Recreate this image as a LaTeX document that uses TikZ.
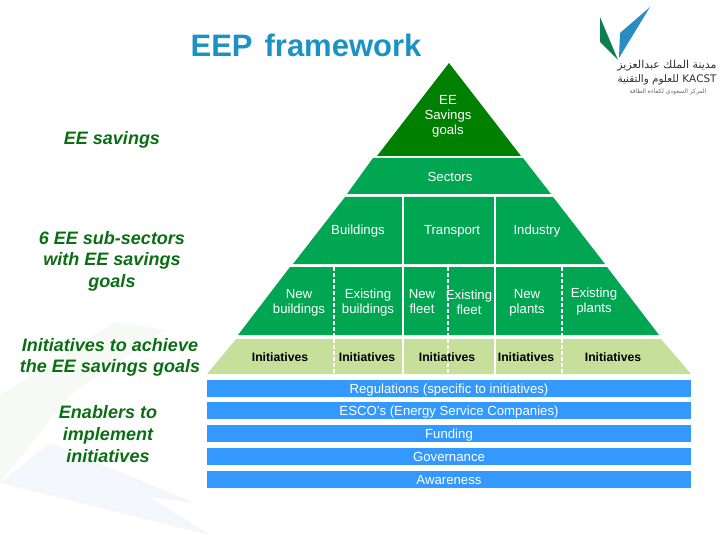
\documentclass[tikz,border=0pt]{standalone}
\usepackage{fontspec}
\usepackage{xcolor}
\setmainfont{Liberation Sans}
\newfontfamily\arabicfont[Script=Arabic]{DejaVu Sans}
\TeXXeTstate=1
\definecolor{eepdark}{HTML}{008000}
\definecolor{eepgreen}{HTML}{00A651}
\definecolor{eeplight}{HTML}{C6E09C}
\definecolor{eepblue}{HTML}{3399FF}
\definecolor{eeptitle}{HTML}{1A92C4}
\definecolor{eeplabel}{HTML}{0B6E14}
\definecolor{logogreen}{HTML}{0B7F4F}
\definecolor{logoblue}{HTML}{2B8CC4}
\definecolor{logotext}{HTML}{303030}
\definecolor{swooshgreen}{HTML}{F6F9F4}
\definecolor{swooshblue}{HTML}{F3F7FB}
\tikzset{
  sidelabel/.style={font=\bfseries\itshape\fontsize{18}{21.6}\selectfont,align=center,text=eeplabel},
  whitelabel/.style={font=\fontsize{13.2}{15}\selectfont,align=center,text=white},
  blacklabel/.style={font=\bfseries\fontsize{12.2}{15}\selectfont,align=center,text=black},
  barbox/.style={fill=eepblue,minimum width=484pt,minimum height=17pt,inner sep=0pt,
    text height=11.5pt,text depth=2pt,font=\fontsize{13.2}{15}\selectfont,text=white},
  divider/.style={draw=white,line width=1.3pt},
  dashdivider/.style={draw=white,line width=1.1pt,dash pattern=on 4pt off 2pt}
}
\begin{document}
\begin{tikzpicture}[x=1pt,y=-1pt]
\useasboundingbox (0,0) rectangle (720,540);
% faint background
\fill[swooshgreen] (0,395) -- (115,322) -- (165,330) -- (70,395) -- (10,470) -- (0,483) -- cycle;
\fill[swooshblue] (0,483) -- (50,443) -- (195,503) -- (150,497) -- (210,535) -- cycle;
% title and logo
\node[text=eeptitle,font=\bfseries\fontsize{31}{36}\selectfont] (title) at (306,45) {EEP\hspace{12pt}framework};
\fill[logogreen] (600,17) -- (600,42) -- (618,60) -- cycle;
\fill[logoblue] (650,7) -- (620,33) -- (619,58) -- cycle;
\node[text=logotext,font=\arabicfont\fontsize{11}{12}\selectfont] (logoa) at (667,66) {\beginR مدينة الملك عبدالعزيز\endR};
\node[text=logotext,font=\arabicfont\fontsize{10.4}{12}\selectfont] (logob) at (667,80) {\beginR للعلوم والتقنية\endR\ KACST};
\node[text=black!60,font=\arabicfont\fontsize{6}{7}\selectfont] (logoc) at (668,92) {\beginR المركز السعودي لكفاءة الطاقة\endR};
% pyramid
\fill[eepdark] (449,63) -- (521,156) -- (377,156) -- cycle;
\fill[eepgreen] (373,158) -- (523,158) -- (551,194) -- (347,194) -- cycle;
\fill[eepgreen] (345,197) -- (553,197) -- (605,264) -- (293,264) -- cycle;
\fill[eepgreen] (290,267) -- (607,267) -- (659,335) -- (238,335) -- cycle;
\fill[eeplight] (236,339) -- (661,339) -- (691,374) -- (207,374) -- cycle;
\draw[divider] (403,197) -- (403,374);
\draw[divider] (495,197) -- (495,374);
\draw[dashdivider] (334,267) -- (334,374);
\draw[dashdivider] (448,267) -- (448,374);
\draw[dashdivider] (562,267) -- (562,374);
% bars
\node[barbox] (regulations) at (449,388.5) {Regulations (specific to initiatives)};
\node[barbox] (esco) at (449,410.5) {ESCO's (Energy Service Companies)};
\node[barbox] (funding) at (449,433.5) {Funding};
\node[barbox] (governance) at (449,456.5) {Governance};
\node[barbox] (awareness) at (449,479.5) {Awareness};
% pyramid labels
\node[whitelabel] (goals) at (448,116.5) {EE\\Savings\\goals};
\node[whitelabel] (sectors) at (450,177) {Sectors};
\node[whitelabel] (buildings) at (358,231) {Buildings};
\node[whitelabel] (transport) at (452,231) {Transport};
\node[whitelabel] (industry) at (537,231) {Industry};
\node[whitelabel] (newbuild) at (299,302.5) {New\\buildings};
\node[whitelabel] (oldbuild) at (368,302.5) {Existing\\buildings};
\node[whitelabel] (newfleet) at (422,302) {New\\fleet};
\node[whitelabel] (oldfleet) at (469,302) {Existing\\fleet};
\node[whitelabel] (newplant) at (527,302.5) {New\\plants};
\node[whitelabel] (oldplant) at (594,302) {Existing\\plants};
\node[blacklabel] (inita) at (280,357) {Initiatives};
\node[blacklabel] (initb) at (367,357) {Initiatives};
\node[blacklabel] (initc) at (447,357) {Initiatives};
\node[blacklabel] (initd) at (526,357) {Initiatives};
\node[blacklabel] (inite) at (613,357) {Initiatives};
% left column
\node[sidelabel] (savings) at (112,139.5) {EE savings};
\node[sidelabel] (subsectors) at (112,261) {6 EE sub-sectors\\with EE savings\\goals};
\node[sidelabel] (achieve) at (110,357.5) {Initiatives to achieve\\the EE savings goals};
\node[sidelabel] (enablers) at (108,434) {Enablers to\\implement\\initiatives};
\end{tikzpicture}
\end{document}
